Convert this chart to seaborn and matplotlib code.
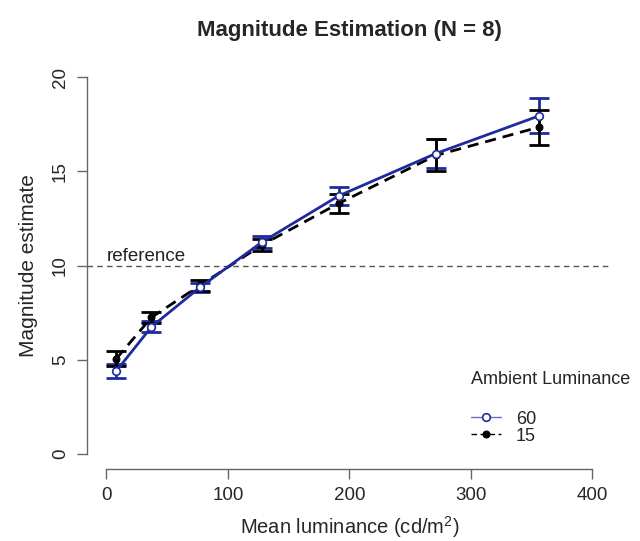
import numpy as np
import pandas as pd
import matplotlib
matplotlib.use("Agg")
import matplotlib.pyplot as plt
import seaborn as sns

# ---- data ----
lum = [8, 37, 77, 128, 191, 271, 356]

mean_60 = [4.4, 6.75, 8.85, 11.25, 13.7, 15.95, 17.95]
err_60 = [0.38, 0.3, 0.25, 0.3, 0.5, 0.75, 0.93]

mean_15 = [5.05, 7.25, 8.95, 11.1, 13.3, 15.85, 17.35]
err_15 = [0.4, 0.27, 0.28, 0.3, 0.5, 0.85, 0.92]

levels = ["60", "15"]
colors = {"60": "#1f2b9c", "15": "black"}

df = pd.DataFrame({
    "lum": lum * 2,
    "est": mean_60 + mean_15,
    "err": err_60 + err_15,
    "ambient": ["60"] * len(lum) + ["15"] * len(lum),
})

sns.set_style("white")
plt.rcParams["font.family"] = ["Liberation Sans", "DejaVu Sans"]
plt.rcParams["mathtext.fontset"] = "custom"
plt.rcParams["mathtext.rm"] = "Liberation Sans"
plt.rcParams["mathtext.it"] = "Liberation Sans:italic"

fig = plt.figure(figsize=(6.4, 5.41), dpi=100)
ax = fig.add_axes([0.136, 0.133, 0.82, 0.752])

# error bars first, lines on top
for lev in levels:
    d = df[df["ambient"] == lev]
    ax.errorbar(d["lum"], d["est"], yerr=d["err"], fmt="none",
                ecolor=colors[lev], elinewidth=2, capsize=7.5, capthick=2, zorder=2)

sns.lineplot(data=df[df["ambient"] == "60"], x="lum", y="est", ax=ax,
             color=colors["60"], lw=2, marker="o", markersize=5.5,
             markerfacecolor="white", markeredgecolor=colors["60"], markeredgewidth=1.2,
             zorder=4, label="60")
sns.lineplot(data=df[df["ambient"] == "15"], x="lum", y="est", ax=ax,
             color=colors["15"], lw=2, linestyle=(0, (4, 2.5)), marker="o", markersize=5,
             markerfacecolor="black", markeredgecolor="black",
             zorder=3, label="15")

# reference line
ax.axhline(10, color="#555555", lw=1, linestyle=(0, (4, 3)), zorder=1)
ax.text(0, 10.05, "reference", fontsize=13.5, ha="left", va="bottom", color="#222222")

ax.set_xlim(-16, 416)
ax.set_ylim(-0.8, 20.8)
ax.set_xticks([0, 100, 200, 300, 400])
ax.set_yticks([0, 5, 10, 15, 20])

for s in ["top", "right"]:
    ax.spines[s].set_visible(False)
ax.spines["left"].set_bounds(0, 20)
ax.spines["bottom"].set_bounds(0, 400)
for s in ["left", "bottom"]:
    ax.spines[s].set_color("#666666")
    ax.spines[s].set_linewidth(1)
ax.tick_params(axis="both", direction="out", length=7, width=1, color="#666666",
               labelsize=13.5, pad=6, left=True, bottom=True)
ax.tick_params(axis="y", labelrotation=90)
for lab in ax.get_yticklabels():
    lab.set_va("center")

ax.set_xlabel("Mean luminance (cd/m$^2$)", fontsize=14.5, labelpad=7)
ax.set_ylabel("Magnitude estimate", fontsize=15, labelpad=10)
ax.set_title("Magnitude Estimation (N = 8)", fontsize=16, fontweight="bold", pad=19)

leg = ax.legend(title="Ambient Luminance", loc="upper left", bbox_to_anchor=(0.70, 0.28),
                frameon=False, fontsize=13, title_fontsize=13, handlelength=1.7,
                alignment="left", labelspacing=0.0, handletextpad=0.8)
leg._legend_box.sep = 16
for h in leg.get_lines():
    h.set_linewidth(1)
leg.get_lines()[0].set_color("#6670c0")

fig.savefig("out.png", dpi=100)
